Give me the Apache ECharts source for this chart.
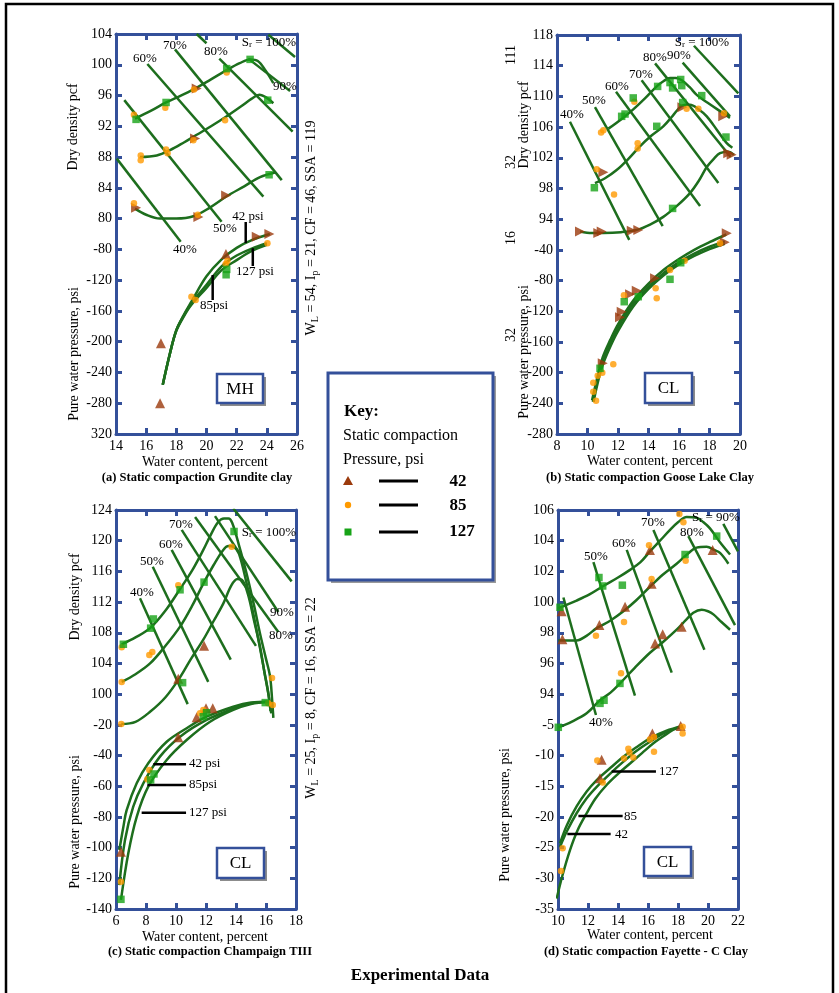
<!DOCTYPE html>
<html>
<head>
<meta charset="utf-8">
<script src="https://cdn.jsdelivr.net/npm/echarts@6/dist/echarts.min.js"></script>
<style>
html, body { margin: 0; padding: 0; background: #fff; }
#chart { width: 839px; height: 993px; }
</style>
</head>
<body>
<div id="chart"></div>
<script>
// ---------- (a) Grundite clay ----------
const aYLabels = ['104', '100', '96', '92', '88', '84', '80', '-80', '-120', '-160', '-200', '-240', '-280', '320'];
const aSatLines = [
  [[14.05, 87.8], [18.29, 77.0]],
  [[14.55, 95.4], [21.0, 79.6]],
  [[16.08, 100.1], [23.77, 82.85]],
  [[17.91, 102.0], [24.99, 85.0]],
  [[19.35, 104], [20.0, 102.8]],
  [[20.85, 100.8], [25.71, 91.3]],
  [[22.77, 100.8], [25.54, 96.6]],
  [[24.1, 103.9], [25.87, 101.0]]
];
const aDensTop = [[15.26, 93.0], [16.3, 94.0], [17.32, 95.1], [18.3, 96.0], [19.24, 96.9], [20.3, 98.1], [21.34, 99.3], [22.2, 100.2], [22.89, 100.7], [23.4, 100.5], [23.9, 99.3], [24.43, 97.6]];
const aDensMid = [[15.59, 88.0], [16.7, 88.2], [17.58, 88.9], [18.5, 89.9], [19.35, 90.9], [20.3, 92.0], [21.34, 93.3], [22.3, 94.6], [23.0, 95.6], [23.5, 96.1], [24.0, 95.7], [24.43, 95.0]];
const aDensBot = [[15.26, 81.3], [16.0, 80.5], [16.92, 80.0], [18.0, 80.0], [19.13, 80.3], [20.2, 81.4], [21.34, 82.9], [22.5, 84.2], [23.55, 85.4], [24.54, 86.0]];
const aPwp42 = [[17.1, -256], [17.58, -215], [18, -185], [18.5, -165], [19, -148], [20, -115], [21, -93], [22, -78], [23, -68], [24.2, -60]];
const aPwp85 = [[17.1, -256], [17.58, -215], [18, -185], [18.5, -166], [19, -150], [20, -126], [21, -102], [22, -88], [23, -79], [24, -72]];
const aPwp127 = [[17.1, -256], [17.58, -215], [18, -186], [18.5, -167], [19, -152], [20, -130], [21, -107], [22, -94], [23, -82], [24, -74]];
const aTriDens = [[15.33, 81.4], [19.35, 96.9], [19.24, 90.4], [21.3, 83.0], [19.46, 80.2]];
const aCircDens = [[15.19, 93.5], [17.27, 94.4], [19.17, 96.8], [21.34, 99.0], [15.64, 88.2], [15.64, 87.6], [17.32, 89.0], [17.42, 88.5], [19.13, 90.2], [21.23, 92.8], [15.19, 82.0], [19.42, 80.5]];
const aSqDens = [[15.33, 92.9], [17.32, 95.1], [21.34, 99.5], [22.89, 100.7], [24.06, 95.4], [24.15, 85.7]];
const aTriPwpR = [[23.33, -63.5], [24.17, -60]];
const aTriPwp = [[21.29, -86], [16.98, -202], [16.92, -280]];
const aCircPwp = [[24.04, -72], [19.0, -141.5], [19.28, -145.8], [21.27, -99], [21.38, -95]];
const aSqPwp = [[21.34, -106], [21.3, -113]];
const aPointers = [
  [[22.6, -44.4], [22.6, -71.7]],
  [[23.07, -78.6], [23.07, -101.6]],
  [[20.41, -113.3], [20.41, -145.8]]
];

// ---------- (b) Goose Lake clay ----------
const bYLabels = ['118', '114', '110', '106', '102', '98', '94', '-40', '-80', '-120', '-160', '-200', '-240', '-280'];
const bSatLines = [
  [[8.85, 106.7], [12.74, 91.3]],
  [[10.49, 108.6], [14.93, 93.1]],
  [[11.87, 110.6], [17.38, 95.7]],
  [[13.55, 112.1], [18.58, 98.7]],
  [[14.43, 114.3], [19.39, 102.1]],
  [[16.24, 114.4], [19.34, 107.4]],
  [[16.98, 116.6], [19.89, 110.4]]
];
const bDensTop = [[11.37, 105.8], [12.2, 107.0], [13.0, 108.3], [13.8, 109.8], [14.54, 111.3], [15.0, 112.0], [15.41, 112.4], [15.8, 112.4], [16.18, 112.1], [16.7, 111.2], [17.16, 110.2], [18.0, 109.0], [18.9, 107.8], [19.34, 107.2]];
const bDensMid = [[10.49, 98.7], [11.2, 99.4], [11.91, 100.4], [12.7, 101.9], [13.44, 103.5], [14.2, 104.9], [14.97, 106.1], [15.6, 107.5], [16.07, 108.6], [16.4, 108.9], [16.72, 108.9], [17.3, 108.3], [17.82, 107.4], [18.5, 105.6], [19.13, 103.9], [19.5, 103.3]];
const bDensBot = [[9.51, 92.4], [10.3, 92.2], [11.04, 92.2], [12.2, 92.3], [13.23, 92.6], [14.1, 93.3], [14.97, 94.3], [15.9, 95.8], [16.72, 97.4], [17.3, 99.0], [17.82, 100.8], [18.3, 101.9], [18.69, 102.6], [19.23, 102.8], [19.6, 102.4]];
const bPwp42 = [[10.3, -236], [10.6, -210], [11, -180], [11.5, -157], [12, -137], [13, -106], [14, -84], [15, -66], [16, -52], [17, -40], [18, -30], [19.1, -20]];
const bPwp85 = [[10.35, -238], [10.6, -215], [11, -185], [11.5, -161], [12, -141], [13, -110], [14, -88], [15, -70], [16, -56], [17, -45], [18, -36], [19, -29]];
const bPwp127 = [[10.4, -238], [10.65, -215], [11, -190], [11.5, -166], [12, -146], [13, -114], [14, -91], [15, -73], [16, -59], [17, -48], [18, -39], [19, -32]];
const bTriDensR = [[11.04, 100.1], [9.51, 92.4], [10.71, 92.2], [10.93, 92.4], [12.9, 92.5], [13.33, 92.6], [16.22, 108.6], [18.9, 107.4], [19.23, 102.6], [19.45, 102.4]];
const bCircDens = [[10.6, 100.5], [10.89, 105.3], [11.04, 105.6], [11.74, 97.2], [13.07, 109.3], [13.29, 103.9], [13.29, 103.2], [16.5, 108.4], [17.27, 108.4], [18.95, 107.8]];
const bSqDens = [[10.45, 98.1], [12.24, 107.4], [12.46, 107.7], [13.0, 109.8], [14.54, 106.1], [14.6, 111.3], [15.41, 111.8], [15.58, 111.1], [16.11, 112.2], [16.18, 111.4], [16.24, 109.2], [17.49, 110.1], [19.08, 104.7], [15.58, 95.4]];
const bTriPwpR = [[19.13, -18.5], [19.0, -30.2], [14.43, -77], [13.23, -93.3], [12.79, -98], [12.24, -120.6], [12.13, -128], [11.0, -187.9]];
const bCircPwp = [[18.69, -31.5], [16.37, -54.2], [15.41, -66.3], [14.47, -90.1], [14.54, -103.2], [12.39, -99.3], [11.69, -189.2], [10.97, -200.1], [10.67, -204], [10.38, -213.2], [10.38, -224.9], [10.56, -236.6]];
const bSqPwp = [[16.11, -56.8], [15.41, -78.4], [13.33, -101.1], [12.41, -107.6], [10.82, -194.4]];

// ---------- (c) Champaign TIII ----------
const cYLabels = ['124', '120', '116', '112', '108', '104', '100', '-20', '-40', '-60', '-80', '-100', '-120', '-140'];
const cSatLines = [
  [[7.6, 112.5], [10.78, 98.7]],
  [[8.45, 116.6], [12.15, 101.6]],
  [[9.71, 118.8], [13.65, 104.5]],
  [[10.38, 121.4], [15.33, 106.3]],
  [[11.27, 123.1], [16.82, 108.1]],
  [[12.6, 123.2], [16.82, 110.7]],
  [[13.82, 124.2], [17.71, 114.7]]
];
const cDensTop = [[6.38, 106.5], [7.3, 107.4], [8.27, 108.6], [9.3, 110.9], [10.27, 113.7], [11.1, 116.2], [11.82, 118.8], [12.3, 120.7], [12.8, 122.4], [13.2, 122.9], [13.5, 122.9], [13.75, 122.3], [14.2, 119.4], [14.71, 115.7], [15.2, 111.6], [15.6, 107.9], [16.0, 104.6], [16.27, 102.3], [16.4, 99.5], [16.49, 96.9]];
const cDensMid = [[6.38, 101.6], [7.3, 102.6], [8.27, 104.0], [9.3, 106.3], [10.27, 108.8], [11.1, 111.6], [11.82, 114.4], [12.5, 116.8], [13.15, 118.8], [13.5, 119.3], [13.85, 119.2], [14.2, 118.3], [14.7, 114.5], [15.15, 110.5], [15.6, 106.0], [15.95, 102.3], [16.2, 99.5], [16.35, 97.5]];
const cDensBot = [[6.35, 96.1], [7.3, 96.4], [8.27, 97.7], [9.3, 99.6], [10.27, 102.2], [11.0, 104.6], [11.82, 107.1], [12.5, 109.5], [13.15, 111.8], [13.7, 114.2], [14.1, 115.0], [14.4, 114.9], [14.8, 113.0], [15.2, 109.6], [15.6, 106.2], [15.9, 102.8], [16.15, 100.2], [16.3, 97.8]];
const cPwp42 = [[6.22, -101.5], [6.5, -86], [6.71, -75.5], [7.38, -58.1], [8.15, -45], [9.38, -31], [10.71, -22.2], [12.04, -14.7], [13.82, -8.2], [15.0, -5.5], [16.2, -5]];
const cPwp85 = [[6.22, -124.4], [6.6, -95], [7.15, -73.3], [7.82, -58.1], [8.93, -40.7], [10.27, -27.7], [12.04, -16.8], [13.82, -9.5], [15.0, -6], [16.2, -5]];
const cPwp127 = [[6.33, -134.1], [6.82, -103.7], [7.38, -79.9], [8.15, -60.3], [9.38, -42.9], [10.71, -29.9], [12.27, -18], [13.82, -10.3], [15.0, -6.5], [16.2, -5]];
const cTriDens = [[10.15, 102.0], [11.87, 106.3]];
const cCircDens = [[6.38, 106.1], [6.38, 101.6], [8.22, 105.1], [8.42, 105.5], [10.15, 114.2], [13.71, 119.2], [16.4, 102.1], [16.45, 98.6], [16.15, 98.8], [6.35, 96.1]];
const cSqDens = [[6.49, 106.5], [8.31, 108.6], [8.49, 109.8], [10.27, 113.6], [11.87, 114.6], [13.87, 121.2], [10.44, 101.5], [15.95, 98.9]];
const cTriPwp = [[6.33, -102.7], [10.15, -28.1], [11.38, -15.1], [12.0, -9.2], [12.45, -9.2]];
const cCircPwp = [[6.33, -122.2], [8.22, -49.4], [8.09, -55.5], [11.6, -12.5], [11.82, -10.3]];
const cSqPwp = [[6.33, -133.7], [8.31, -55.9], [8.53, -52], [11.82, -14.7], [12.04, -12.1]];
const cPointers = [
  [[8.49, -45.7], [10.67, -45.7]],
  [[8.09, -59.2], [10.67, -59.2]],
  [[7.71, -77.3], [10.67, -77.3]]
];

// ---------- (d) Fayette - C clay ----------
const dYLabels = ['106', '104', '102', '100', '98', '96', '94', '-5', '-10', '-15', '-20', '-25', '-30', '-35'];
const dSatLines = [
  [[10.36, 100.3], [12.53, 92.64]],
  [[12.36, 102.6], [15.13, 93.9]],
  [[14.58, 103.4], [17.58, 95.4]],
  [[16.36, 104.7], [19.76, 96.9]],
  [[18.69, 104.3], [21.8, 98.5]],
  [[21.02, 105.1], [22.0, 103.3]]
];
const dDensTop = [[10.02, 99.6], [11.24, 100.1], [12.1, 100.5], [13.02, 101.05], [14.0, 101.6], [14.8, 102.1], [15.5, 102.6], [16.13, 103.3], [16.8, 104.0], [17.47, 104.7], [18.0, 105.2], [18.58, 105.55], [19.24, 105.5], [19.7, 105.2], [20.13, 104.8], [20.8, 103.9], [21.47, 103.1]];
const dDensMid = [[10.02, 97.5], [11.24, 97.5], [11.9, 97.8], [12.58, 98.3], [13.5, 98.8], [14.36, 99.4], [15.2, 100.1], [16.13, 101.0], [17.0, 101.8], [17.91, 102.5], [18.6, 103.1], [19.24, 103.55], [19.91, 103.6], [20.4, 103.4], [20.8, 103.2], [21.36, 102.5]];
const dDensBot = [[10.02, 91.84], [10.9, 92.2], [11.91, 92.75], [12.8, 93.6], [13.5, 94.1], [14.13, 94.7], [15.1, 95.7], [16.13, 96.7], [17.0, 97.4], [17.91, 98.2], [18.5, 98.8], [19.02, 99.3], [19.58, 99.5], [20.0, 99.4], [20.36, 99.2], [20.9, 98.7], [21.47, 98.2]];
const dPwp42 = [[9.91, -33.3], [10.3, -29.5], [10.8, -25.4], [11.3, -22.2], [11.91, -19.4], [12.5, -17], [13.24, -14.8], [14.0, -13.0], [14.8, -11.3], [15.6, -9.6], [16.36, -8.0], [17.0, -6.9], [17.69, -5.8], [18.31, -5.2]];
const dPwp85 = [[10.13, -24.9], [10.6, -22.3], [11.24, -19.4], [11.9, -17.0], [12.58, -15.1], [13.5, -12.9], [14.36, -11.0], [15.2, -9.3], [16.13, -7.75], [17.2, -6.2], [18.31, -5.2]];
const dPwp127 = [[10.13, -24.3], [10.6, -21.3], [11.24, -18.3], [11.9, -15.9], [12.58, -14.0], [13.5, -12.0], [14.36, -10.2], [15.2, -8.7], [16.13, -7.2], [17.2, -6.0], [18.31, -5.2]];
const dTriDens = [[10.24, 99.4], [16.13, 103.4], [10.29, 97.57], [12.76, 98.5], [14.47, 99.7], [16.24, 101.2], [16.47, 97.3], [16.98, 97.9], [18.24, 98.4], [20.31, 103.4]];
const dCircDens = [[12.53, 97.8], [14.4, 98.7], [14.2, 95.36], [16.24, 101.5], [16.07, 103.7], [18.09, 105.74], [18.36, 105.2], [18.51, 102.7]];
const dSqDens = [[10.13, 99.66], [12.73, 101.6], [12.98, 101.05], [14.29, 101.1], [18.47, 103.1], [20.58, 104.3], [14.13, 94.7], [13.07, 93.6], [12.8, 93.4], [10.02, 91.84]];
const dTriPwp = [[12.91, -10.7], [12.8, -13.7], [16.29, -6.4], [18.18, -5.2]];
const dCircPwp = [[12.62, -10.8], [12.98, -14.4], [15.02, -10.3], [14.69, -8.9], [14.76, -9.5], [14.4, -10.5], [16.13, -7.4], [16.4, -7.0], [16.4, -9.4], [18.31, -5.3], [18.31, -6.4], [10.31, -25.1], [10.2, -28.8]];
const dPointers = [
  [[13.58, -12.6], [16.53, -12.6]],
  [[11.36, -19.85], [14.31, -19.85]],
  [[10.62, -22.8], [13.51, -22.8]]
];

const FONT = '"Liberation Serif", "Times New Roman", serif';
const BLUE = '#34509a';
const GREEN = '#1d6e1d';
const BROWN = '#9b3a0c';
const ORANGE = '#ff9a00';
const SQGREEN = '#17a317';

const KIND = {
  tri: { symbol: 'triangle', size: 10, rot: 0, color: BROWN },
  triR: { symbol: 'triangle', size: 10, rot: -90, color: BROWN },
  circ: { symbol: 'circle', size: 6.5, rot: 0, color: ORANGE },
  sq: { symbol: 'rect', size: 7.5, rot: 0, color: SQGREEN }
};

const panels = [
  {
    grid: { left: 116, top: 34, width: 181, height: 400 }, x: [14, 26], p: [-320, 200, 40], d: [52, 104], labels: aYLabels,
    sat: aSatLines, dens: [aDensTop, aDensMid, aDensBot], pwp: [aPwp42, aPwp85, aPwp127], pointers: aPointers,
    pts: [[aTriDens, 'd', 'triR'], [aCircDens, 'd', 'circ'], [aSqDens, 'd', 'sq'], [aTriPwpR, 'p', 'triR'], [aTriPwp, 'p', 'tri'], [aCircPwp, 'p', 'circ'], [aSqPwp, 'p', 'sq']]
  },
  {
    grid: { left: 557, top: 35, width: 183, height: 399 }, x: [8, 20], p: [-280, 240, 40], d: [66, 118], labels: bYLabels,
    sat: bSatLines, dens: [bDensTop, bDensMid, bDensBot], pwp: [bPwp42, bPwp85, bPwp127], pointers: [],
    pts: [[bTriDensR, 'd', 'triR'], [bCircDens, 'd', 'circ'], [bSqDens, 'd', 'sq'], [bTriPwpR, 'p', 'triR'], [bCircPwp, 'p', 'circ'], [bSqPwp, 'p', 'sq']]
  },
  {
    grid: { left: 116, top: 510, width: 180, height: 399 }, x: [6, 18], p: [-140, 120, 20], d: [72, 124], labels: cYLabels,
    sat: cSatLines, dens: [cDensTop, cDensMid, cDensBot], pwp: [cPwp42, cPwp85, cPwp127], pointers: cPointers,
    pts: [[cTriDens, 'd', 'tri'], [cCircDens, 'd', 'circ'], [cSqDens, 'd', 'sq'], [cTriPwp, 'p', 'tri'], [cCircPwp, 'p', 'circ'], [cSqPwp, 'p', 'sq']]
  },
  {
    grid: { left: 558, top: 510, width: 180, height: 399 }, x: [10, 22], p: [-35, 30, 5], d: [80, 106], labels: dYLabels,
    sat: dSatLines, dens: [dDensTop, dDensMid, dDensBot], pwp: [dPwp42, dPwp85, dPwp127], pointers: dPointers,
    pts: [[dTriDens, 'd', 'tri'], [dCircDens, 'd', 'circ'], [dSqDens, 'd', 'sq'], [dTriPwp, 'p', 'tri'], [dCircPwp, 'p', 'circ']]
  }
];

const grids = [], xAxes = [], yAxes = [], series = [];
const frameLine = { onZero: false, lineStyle: { color: BLUE, width: 3 } };
const frameTick = { inside: true, length: 6, lineStyle: { color: BLUE, width: 3 } };

panels.forEach(function (pn, k) {
  grids.push(pn.grid);
  const xBase = { gridIndex: k, type: 'value', min: pn.x[0], max: pn.x[1], interval: 2, axisLine: frameLine, axisTick: frameTick, splitLine: { show: false } };
  xAxes.push(Object.assign({}, xBase, { position: 'bottom', axisLabel: { color: '#000', fontFamily: FONT, fontSize: 14, margin: 5 } }));
  xAxes.push(Object.assign({}, xBase, { position: 'top', axisLabel: { show: false } }));
  const pMin = pn.p[0], pMax = pn.p[1], pInt = pn.p[2], labels = pn.labels;
  const yBase = { gridIndex: k, type: 'value', min: pMin, max: pMax, interval: pInt, axisLine: frameLine, axisTick: frameTick, splitLine: { show: false } };
  yAxes.push(Object.assign({}, yBase, {
    position: 'left',
    axisLabel: {
      color: '#000', fontFamily: FONT, fontSize: 14, margin: 4,
      formatter: function (v) { const i = Math.round((pMax - v) / pInt); return labels[i] || ''; }
    }
  }));
  yAxes.push(Object.assign({}, yBase, { position: 'right', axisLabel: { show: false } }));
  yAxes.push({ gridIndex: k, type: 'value', min: pn.d[0], max: pn.d[1], show: false, axisLine: { onZero: false } });

  const xi = 2 * k, yp = 3 * k, yd = 3 * k + 2;
  pn.sat.forEach(function (seg) {
    series.push({ type: 'line', xAxisIndex: xi, yAxisIndex: yd, data: seg, symbol: 'none', silent: true, lineStyle: { color: GREEN, width: 2.5 }, z: 2 });
  });
  pn.dens.forEach(function (c) {
    series.push({ type: 'line', xAxisIndex: xi, yAxisIndex: yd, data: c, smooth: 0.35, symbol: 'none', silent: true, lineStyle: { color: GREEN, width: 2.5 }, z: 3 });
  });
  pn.pwp.forEach(function (c) {
    series.push({ type: 'line', xAxisIndex: xi, yAxisIndex: yp, data: c, smooth: 0.35, symbol: 'none', silent: true, lineStyle: { color: GREEN, width: 2.5 }, z: 3 });
  });
  pn.pointers.forEach(function (c) {
    series.push({ type: 'line', xAxisIndex: xi, yAxisIndex: yp, data: c, symbol: 'none', silent: true, lineStyle: { color: '#000', width: 2.5 }, z: 4 });
  });
  pn.pts.forEach(function (s) {
    const kd = KIND[s[2]];
    series.push({
      type: 'scatter', xAxisIndex: xi, yAxisIndex: s[1] === 'd' ? yd : yp, data: s[0],
      symbol: kd.symbol, symbolSize: kd.size, symbolRotate: kd.rot, silent: true,
      itemStyle: { color: kd.color }, z: 5
    });
  });
});

// ---------- text and decoration ----------
function txt(x, y, text, size, opts) {
  opts = opts || {};
  return {
    type: 'text', x: x, y: y, rotation: opts.rot || 0, z: 50,
    style: {
      text: text, fill: '#000', align: opts.align || 'center', verticalAlign: 'middle',
      font: (opts.bold ? 'bold ' : '') + size + 'px ' + FONT, rich: opts.rich
    }
  };
}
const subRichBig = {
  b: { fontSize: 14, fontFamily: FONT, lineHeight: 18 },
  s: { fontSize: 10, fontFamily: FONT, lineHeight: 10, verticalAlign: 'bottom' }
};
function satLabel(x, y, text) {
  return txt(x, y, text, 13, { rich: { s: { fontSize: 9, fontFamily: FONT, lineHeight: 9, verticalAlign: 'bottom' } } });
}
function soilBox(x, y, w, h, text) {
  return [
    { type: 'rect', shape: { x: x + 3, y: y + 3, width: w, height: h }, style: { fill: '#8c8c8c' }, z: 40 },
    { type: 'rect', shape: { x: x, y: y, width: w, height: h }, style: { fill: '#fff', stroke: BLUE, lineWidth: 2.5 }, z: 41 },
    txt(x + w / 2, y + h / 2 + 1, text, 17)
  ];
}
const rot = Math.PI / 2;

const graphics = [
  { type: 'rect', shape: { x: 6, y: 4, width: 827, height: 1000 }, style: { fill: 'none', stroke: '#000', lineWidth: 2.5 }, z: 1 },
  // panel a labels
  satLabel(145, 59, '60%'), satLabel(175, 46, '70%'), satLabel(216, 52, '80%'),
  satLabel(269, 43, 'S{s|r} = 100%'), satLabel(285, 87, '90%'),
  satLabel(225, 229, '50%'), satLabel(185, 250, '40%'),
  txt(248, 217, '42 psi', 13), txt(255, 272, '127 psi', 13), txt(214, 306, '85psi', 13),
  txt(73, 127, 'Dry density pcf', 14, { rot: rot }),
  txt(74, 354, 'Pure water pressure, psi', 14, { rot: rot }),
  txt(311, 228, '{b|W}{s|L}{b| = 54, I}{s|p}{b| = 21, CF = 46, SSA = 119}', 14, { rot: rot, rich: subRichBig }),
  txt(205, 462, 'Water content, percent', 14),
  txt(197, 478, '(a) Static compaction Grundite clay', 12.5, { bold: true }),
  // panel b labels
  satLabel(572, 115, '40%'), satLabel(594, 101, '50%'), satLabel(617, 87, '60%'),
  satLabel(641, 75, '70%'), satLabel(655, 58, '80%'), satLabel(679, 56, '90%'),
  satLabel(702, 43, 'S{s|r} = 100%'),
  txt(511, 55, '111', 14, { rot: rot }), txt(511, 162, '32', 14, { rot: rot }),
  txt(511, 238, '16', 14, { rot: rot }), txt(511, 335, '32', 14, { rot: rot }),
  txt(524, 125, 'Dry density pcf', 14, { rot: rot }),
  txt(524, 352, 'Pure water pressure, psi', 14, { rot: rot }),
  txt(650, 461, 'Water content, percent', 14),
  txt(650, 478, '(b) Static compaction Goose Lake Clay', 12.5, { bold: true }),
  // panel c labels
  satLabel(142, 593, '40%'), satLabel(152, 562, '50%'), satLabel(171, 545, '60%'),
  satLabel(181, 525, '70%'), satLabel(269, 533, 'S{s|r} = 100%'),
  satLabel(282, 613, '90%'), satLabel(281, 636, '80%'),
  txt(189, 764, '42 psi', 13, { align: 'left' }), txt(189, 785, '85psi', 13, { align: 'left' }), txt(189, 813, '127 psi', 13, { align: 'left' }),
  txt(75, 597, 'Dry density pcf', 14, { rot: rot }),
  txt(75, 822, 'Pure water pressure, psi', 14, { rot: rot }),
  txt(311, 698, '{b|W}{s|L}{b| = 25, I}{s|p}{b| = 8, CF = 16, SSA = 22}', 14, { rot: rot, rich: subRichBig }),
  txt(205, 937, 'Water content, percent', 14),
  txt(210, 952, '(c) Static compaction Champaign TIII', 12.5, { bold: true }),
  // panel d labels
  satLabel(596, 557, '50%'), satLabel(624, 544, '60%'), satLabel(653, 523, '70%'),
  satLabel(692, 533, '80%'), satLabel(716, 518, 'S{s|r} = 90%'), satLabel(601, 723, '40%'),
  txt(659, 772, '127', 13, { align: 'left' }), txt(624, 817, '85', 13, { align: 'left' }), txt(615, 835, '42', 13, { align: 'left' }),
  txt(505, 815, 'Pure water pressure, psi', 14, { rot: rot }),
  txt(650, 935, 'Water content, percent', 14),
  txt(646, 952, '(d) Static compaction Fayette - C Clay', 12.5, { bold: true }),
  txt(420, 976, 'Experimental Data', 17, { bold: true }),
  // key
  { type: 'rect', shape: { x: 331, y: 376, width: 165, height: 207 }, style: { fill: '#9a9a9a' }, z: 40 },
  { type: 'rect', shape: { x: 328, y: 373, width: 165, height: 207 }, style: { fill: '#fff', stroke: BLUE, lineWidth: 3 }, z: 41 },
  txt(344, 412, 'Key:', 17, { bold: true, align: 'left' }),
  txt(343, 436, 'Static compaction', 16, { align: 'left' }),
  txt(343, 460, 'Pressure, psi', 16, { align: 'left' }),
  { type: 'polygon', shape: { points: [[348, 476], [343, 485], [353, 485]] }, style: { fill: BROWN }, z: 50 },
  { type: 'circle', shape: { cx: 348, cy: 505, r: 3.2 }, style: { fill: ORANGE }, z: 50 },
  { type: 'rect', shape: { x: 344.5, y: 528.5, width: 7, height: 7 }, style: { fill: SQGREEN }, z: 50 },
  { type: 'line', shape: { x1: 379, y1: 481, x2: 418, y2: 481 }, style: { stroke: '#000', lineWidth: 3 }, z: 50 },
  { type: 'line', shape: { x1: 379, y1: 505, x2: 418, y2: 505 }, style: { stroke: '#000', lineWidth: 3 }, z: 50 },
  { type: 'line', shape: { x1: 379, y1: 532, x2: 418, y2: 532 }, style: { stroke: '#000', lineWidth: 3 }, z: 50 },
  txt(458, 482, '42', 17, { bold: true }),
  txt(458, 506, '85', 17, { bold: true }),
  txt(462, 532, '127', 17, { bold: true })
].concat(
  soilBox(217, 374, 46, 29, 'MH'),
  soilBox(645, 373, 47, 30, 'CL'),
  soilBox(217, 848, 47, 30, 'CL'),
  soilBox(644, 847, 47, 29, 'CL')
);

const chart = echarts.init(document.getElementById('chart'), null, { renderer: 'canvas' });
chart.setOption({
  animation: false,
  backgroundColor: '#ffffff',
  grid: grids,
  xAxis: xAxes,
  yAxis: yAxes,
  series: series,
  graphic: { elements: graphics }
});
</script>
</body>
</html>
